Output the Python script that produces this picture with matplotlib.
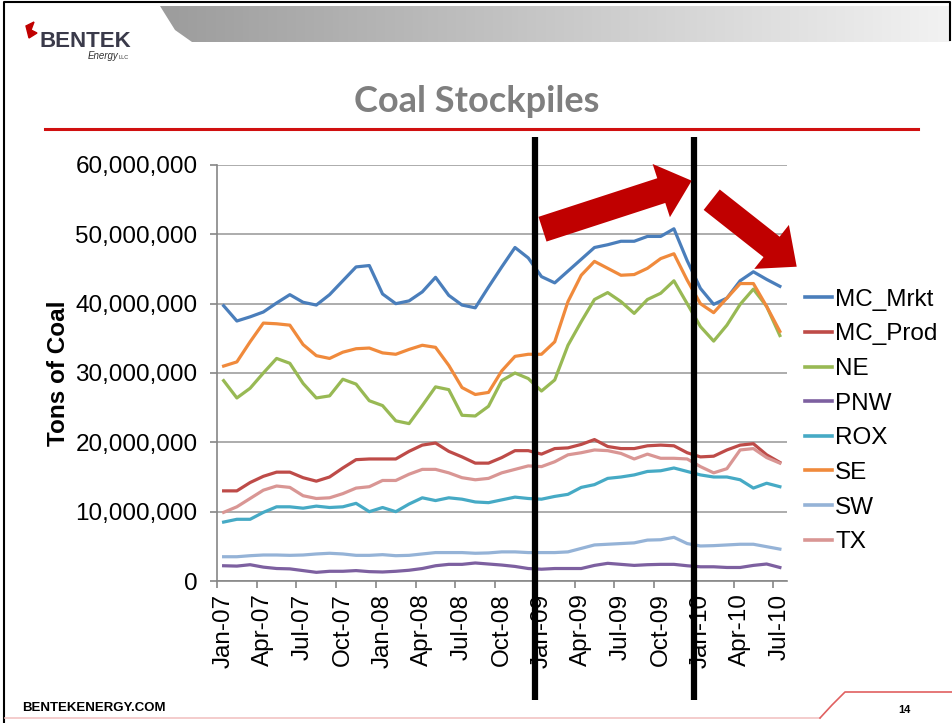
import matplotlib.pyplot as plt
import numpy as np
from matplotlib.patches import FancyArrow, Polygon
from matplotlib.ticker import FuncFormatter
from matplotlib.transforms import blended_transform_factory

plt.rcParams['font.family'] = ['Liberation Sans', 'DejaVu Sans']

# monthly stockpiles, Jan-07 .. Jul-10, millions of tons
mc_mrkt = [39.7, 37.5, 38.1, 38.8, 40.1, 41.3, 40.2, 39.8, 41.3, 43.3, 45.3, 45.5,
           41.4, 40.0, 40.4, 41.7, 43.8, 41.2, 39.8, 39.4, 42.4, 45.3, 48.1, 46.6,
           43.9, 43.0, 44.7, 46.4, 48.1, 48.5, 49.0, 49.0, 49.7, 49.7, 50.8, 46.2,
           42.2, 39.9, 40.8, 43.3, 44.6, 43.5, 42.5]
mc_prod = [13.0, 13.0, 14.2, 15.1, 15.7, 15.7, 14.9, 14.4, 15.0, 16.3, 17.5, 17.6,
           17.6, 17.6, 18.7, 19.6, 19.9, 18.7, 17.9, 17.0, 17.0, 17.8, 18.8, 18.8,
           18.3, 19.1, 19.2, 19.7, 20.4, 19.4, 19.1, 19.1, 19.5, 19.6, 19.5, 18.5,
           17.9, 18.0, 18.9, 19.6, 19.8, 18.2, 17.1]
ne = [28.9, 26.4, 27.8, 30.0, 32.1, 31.4, 28.5, 26.4, 26.7, 29.1, 28.4, 26.0,
      25.3, 23.1, 22.7, 25.3, 28.0, 27.6, 23.9, 23.8, 25.2, 28.9, 30.0, 29.2,
      27.4, 29.0, 34.0, 37.4, 40.6, 41.6, 40.3, 38.6, 40.6, 41.5, 43.3, 40.0,
      36.7, 34.6, 36.9, 39.9, 42.1, 39.6, 35.4]
pnw = [2.2, 2.15, 2.35, 2.0, 1.8, 1.75, 1.5, 1.25, 1.4, 1.4, 1.5, 1.35,
       1.3, 1.4, 1.55, 1.8, 2.2, 2.4, 2.4, 2.6, 2.45, 2.3, 2.1, 1.8,
       1.7, 1.8, 1.8, 1.8, 2.25, 2.55, 2.4, 2.25, 2.35, 2.4, 2.4, 2.2,
       2.05, 2.05, 1.95, 1.95, 2.25, 2.45, 1.95]
rox = [8.5, 8.9, 8.9, 9.9, 10.7, 10.7, 10.5, 10.8, 10.6, 10.7, 11.2, 10.0,
       10.6, 10.0, 11.1, 12.0, 11.6, 12.0, 11.8, 11.4, 11.3, 11.7, 12.1, 11.9,
       11.8, 12.2, 12.5, 13.5, 13.9, 14.8, 15.0, 15.3, 15.8, 15.9, 16.3, 15.8,
       15.3, 15.0, 15.0, 14.6, 13.4, 14.1, 13.6]
se = [31.0, 31.6, 34.5, 37.2, 37.1, 36.9, 34.1, 32.5, 32.1, 33.0, 33.5, 33.6,
      32.9, 32.7, 33.4, 34.0, 33.7, 31.1, 27.9, 26.9, 27.2, 30.3, 32.4, 32.7,
      32.7, 34.5, 40.3, 44.1, 46.1, 45.1, 44.1, 44.2, 45.1, 46.5, 47.2, 43.4,
      40.0, 38.7, 40.8, 42.9, 42.9, 39.6, 36.0]
sw = [3.5, 3.5, 3.65, 3.75, 3.75, 3.7, 3.75, 3.9, 4.0, 3.9, 3.7, 3.7,
      3.8, 3.65, 3.7, 3.9, 4.1, 4.1, 4.1, 4.0, 4.05, 4.2, 4.2, 4.1,
      4.1, 4.1, 4.2, 4.7, 5.2, 5.3, 5.4, 5.5, 5.9, 5.95, 6.3, 5.4,
      5.05, 5.1, 5.2, 5.3, 5.3, 4.95, 4.6]
tx = [9.9, 10.7, 11.9, 13.1, 13.7, 13.5, 12.3, 11.9, 12.0, 12.6, 13.4, 13.6,
      14.5, 14.5, 15.4, 16.1, 16.1, 15.6, 14.9, 14.6, 14.8, 15.6, 16.1, 16.6,
      16.5, 17.2, 18.2, 18.5, 18.9, 18.8, 18.4, 17.6, 18.3, 17.7, 17.7, 17.6,
      16.5, 15.6, 16.2, 18.9, 19.1, 17.8, 17.0]

series_names = ['MC_Mrkt', 'MC_Prod', 'NE', 'PNW', 'ROX', 'SE', 'SW', 'TX']
series_data = [mc_mrkt, mc_prod, ne, pnw, rox, se, sw, tx]
series_colors = ['#4A7EBB', '#BE4B48', '#98B954', '#7D60A0',
                 '#46AAC5', '#F08A3C', '#95B3D7', '#D99694']

tick_labels = ['Jan-07', 'Apr-07', 'Jul-07', 'Oct-07', 'Jan-08', 'Apr-08', 'Jul-08',
               'Oct-08', 'Jan-09', 'Apr-09', 'Jul-09', 'Oct-09', 'Jan-10', 'Apr-10', 'Jul-10']
period_breaks = [23.5, 35.5]  # between Dec-08/Jan-09 and Dec-09/Jan-10

W, H = 953, 723
fig = plt.figure(figsize=(W / 100, H / 100), dpi=100)
fig.patch.set_facecolor('white')

# chart
ax = fig.add_axes([217 / W, 1 - 581 / H, (786.5 - 217) / W, (581 - 165) / H])
x = np.arange(len(mc_mrkt))
for name, vals, col in zip(series_names, series_data, series_colors):
    ax.plot(x, np.array(vals) * 1e6, color=col, lw=2.3, label=name,
            solid_joinstyle='round', zorder=3)

ax.set_xlim(-0.5, len(x) - 0.5)
ax.set_ylim(0, 60e6)
ax.set_yticks(np.arange(0, 60e6 + 1, 10e6))
ax.yaxis.set_major_formatter(FuncFormatter(lambda v, p: '{:,.0f}'.format(v)))
ax.grid(axis='y', color='#A6A6A6', lw=1.3, zorder=0)
for s in ['top', 'right']:
    ax.spines[s].set_visible(False)
for s in ['left', 'bottom']:
    ax.spines[s].set_color('#868686')
    ax.spines[s].set_linewidth(1.2)
ax.tick_params(axis='y', labelsize=17.5, length=5, width=1.2, color='#868686', pad=9)

ax.set_xticks(np.arange(0, len(x), 3))
ax.set_xticklabels(tick_labels, rotation=90, fontsize=17.5)
ax.set_xticks(np.arange(-0.5, len(x), 3), minor=True)
ax.tick_params(axis='x', which='major', length=0, pad=9)
ax.tick_params(axis='x', which='minor', length=5, width=1.2, color='#868686')
ax.set_ylabel('Tons of Coal', fontsize=17.5, fontweight='bold', labelpad=4)

leg = ax.legend(loc='center left', bbox_to_anchor=(805 / W, 1 - 421 / H),
                bbox_transform=fig.transFigure, frameon=False, fontsize=17.5,
                handlelength=1.1, handletextpad=0.15, labelspacing=0.52,
                borderpad=0, borderaxespad=0)
for h in leg.get_lines():
    h.set_linewidth(2.6)

# period divider lines
tr = blended_transform_factory(ax.transData, ax.transAxes)
for b in period_breaks:
    ax.plot([b, b], [(581 - 137) / 416, (581 - 700) / 416], color='black', lw=4.5,
            transform=tr, clip_on=False, zorder=6, solid_capstyle='butt')

# slide decoration in pixel coordinates
ov = fig.add_axes([0, 0, 1, 1], zorder=10)
ov.patch.set_alpha(0)

# top banner
grad = np.linspace(0, 1, 256).reshape(1, -1)
banner = Polygon([(160, 6), (950, 6), (950, 42), (192, 42), (175, 30)],
                 closed=True, facecolor='none', edgecolor='none')
ov.add_patch(banner)
im = ov.imshow(grad, cmap=plt.matplotlib.colors.LinearSegmentedColormap.from_list(
    'g', ['#9C9C9C', '#C8C8C8', '#F2F2F2']), extent=(160, 950, 42, 6), aspect='auto')
im.set_clip_path(banner)
ov.set_xlim(0, W)
ov.set_ylim(H, 0)
ov.axis('off')

# border
ov.plot([4, 4, 950, 950], [H, 2, 2, 40], color='black', lw=1.5)

# logo
ov.add_patch(Polygon([(26, 26), (34, 22), (31, 30), (37, 33), (29, 38)],
                     closed=True, color='#C00000'))
ov.text(40, 47, 'BENTEK', fontsize=16, fontweight='bold', color='#3A3A4A')
ov.text(88, 59, 'Energy', fontsize=7, style='italic', color='#333333')
ov.text(119, 59, 'LLC', fontsize=4, color='#333333')

# title
ov.text(477, 112, 'Coal Stockpiles', fontsize=26, fontweight='bold', color='#7F7F7F',
        ha='center', family=['Lato', 'DejaVu Sans'])
ov.plot([45, 918], [129, 129], color='#D01010', lw=2.2)

# arrows
ov.add_patch(FancyArrow(542.5, 229.2, 691.7 - 542.5, 180.7 - 229.2, width=26,
                        head_width=56, head_length=32, length_includes_head=True,
                        color='#C00000', lw=0))
ov.add_patch(FancyArrow(711.7, 199.7, 796.7 - 711.7, 266.7 - 199.7, width=26,
                        head_width=56, head_length=32, length_includes_head=True,
                        color='#C00000', lw=0))

# footer
ov.text(22, 711, 'BENTEKENERGY.COM', fontsize=9.5, fontweight='bold', color='black')
ov.text(898, 713, '14', fontsize=8, fontweight='bold', color='black')
ov.plot([5, 820], [718, 718], color='#F2C4C4', lw=1.2)
ov.plot([820, 832, 845, 953], [718, 705, 692, 692], color='#E06060', lw=1.2)

fig.savefig('out.png', dpi=100)
